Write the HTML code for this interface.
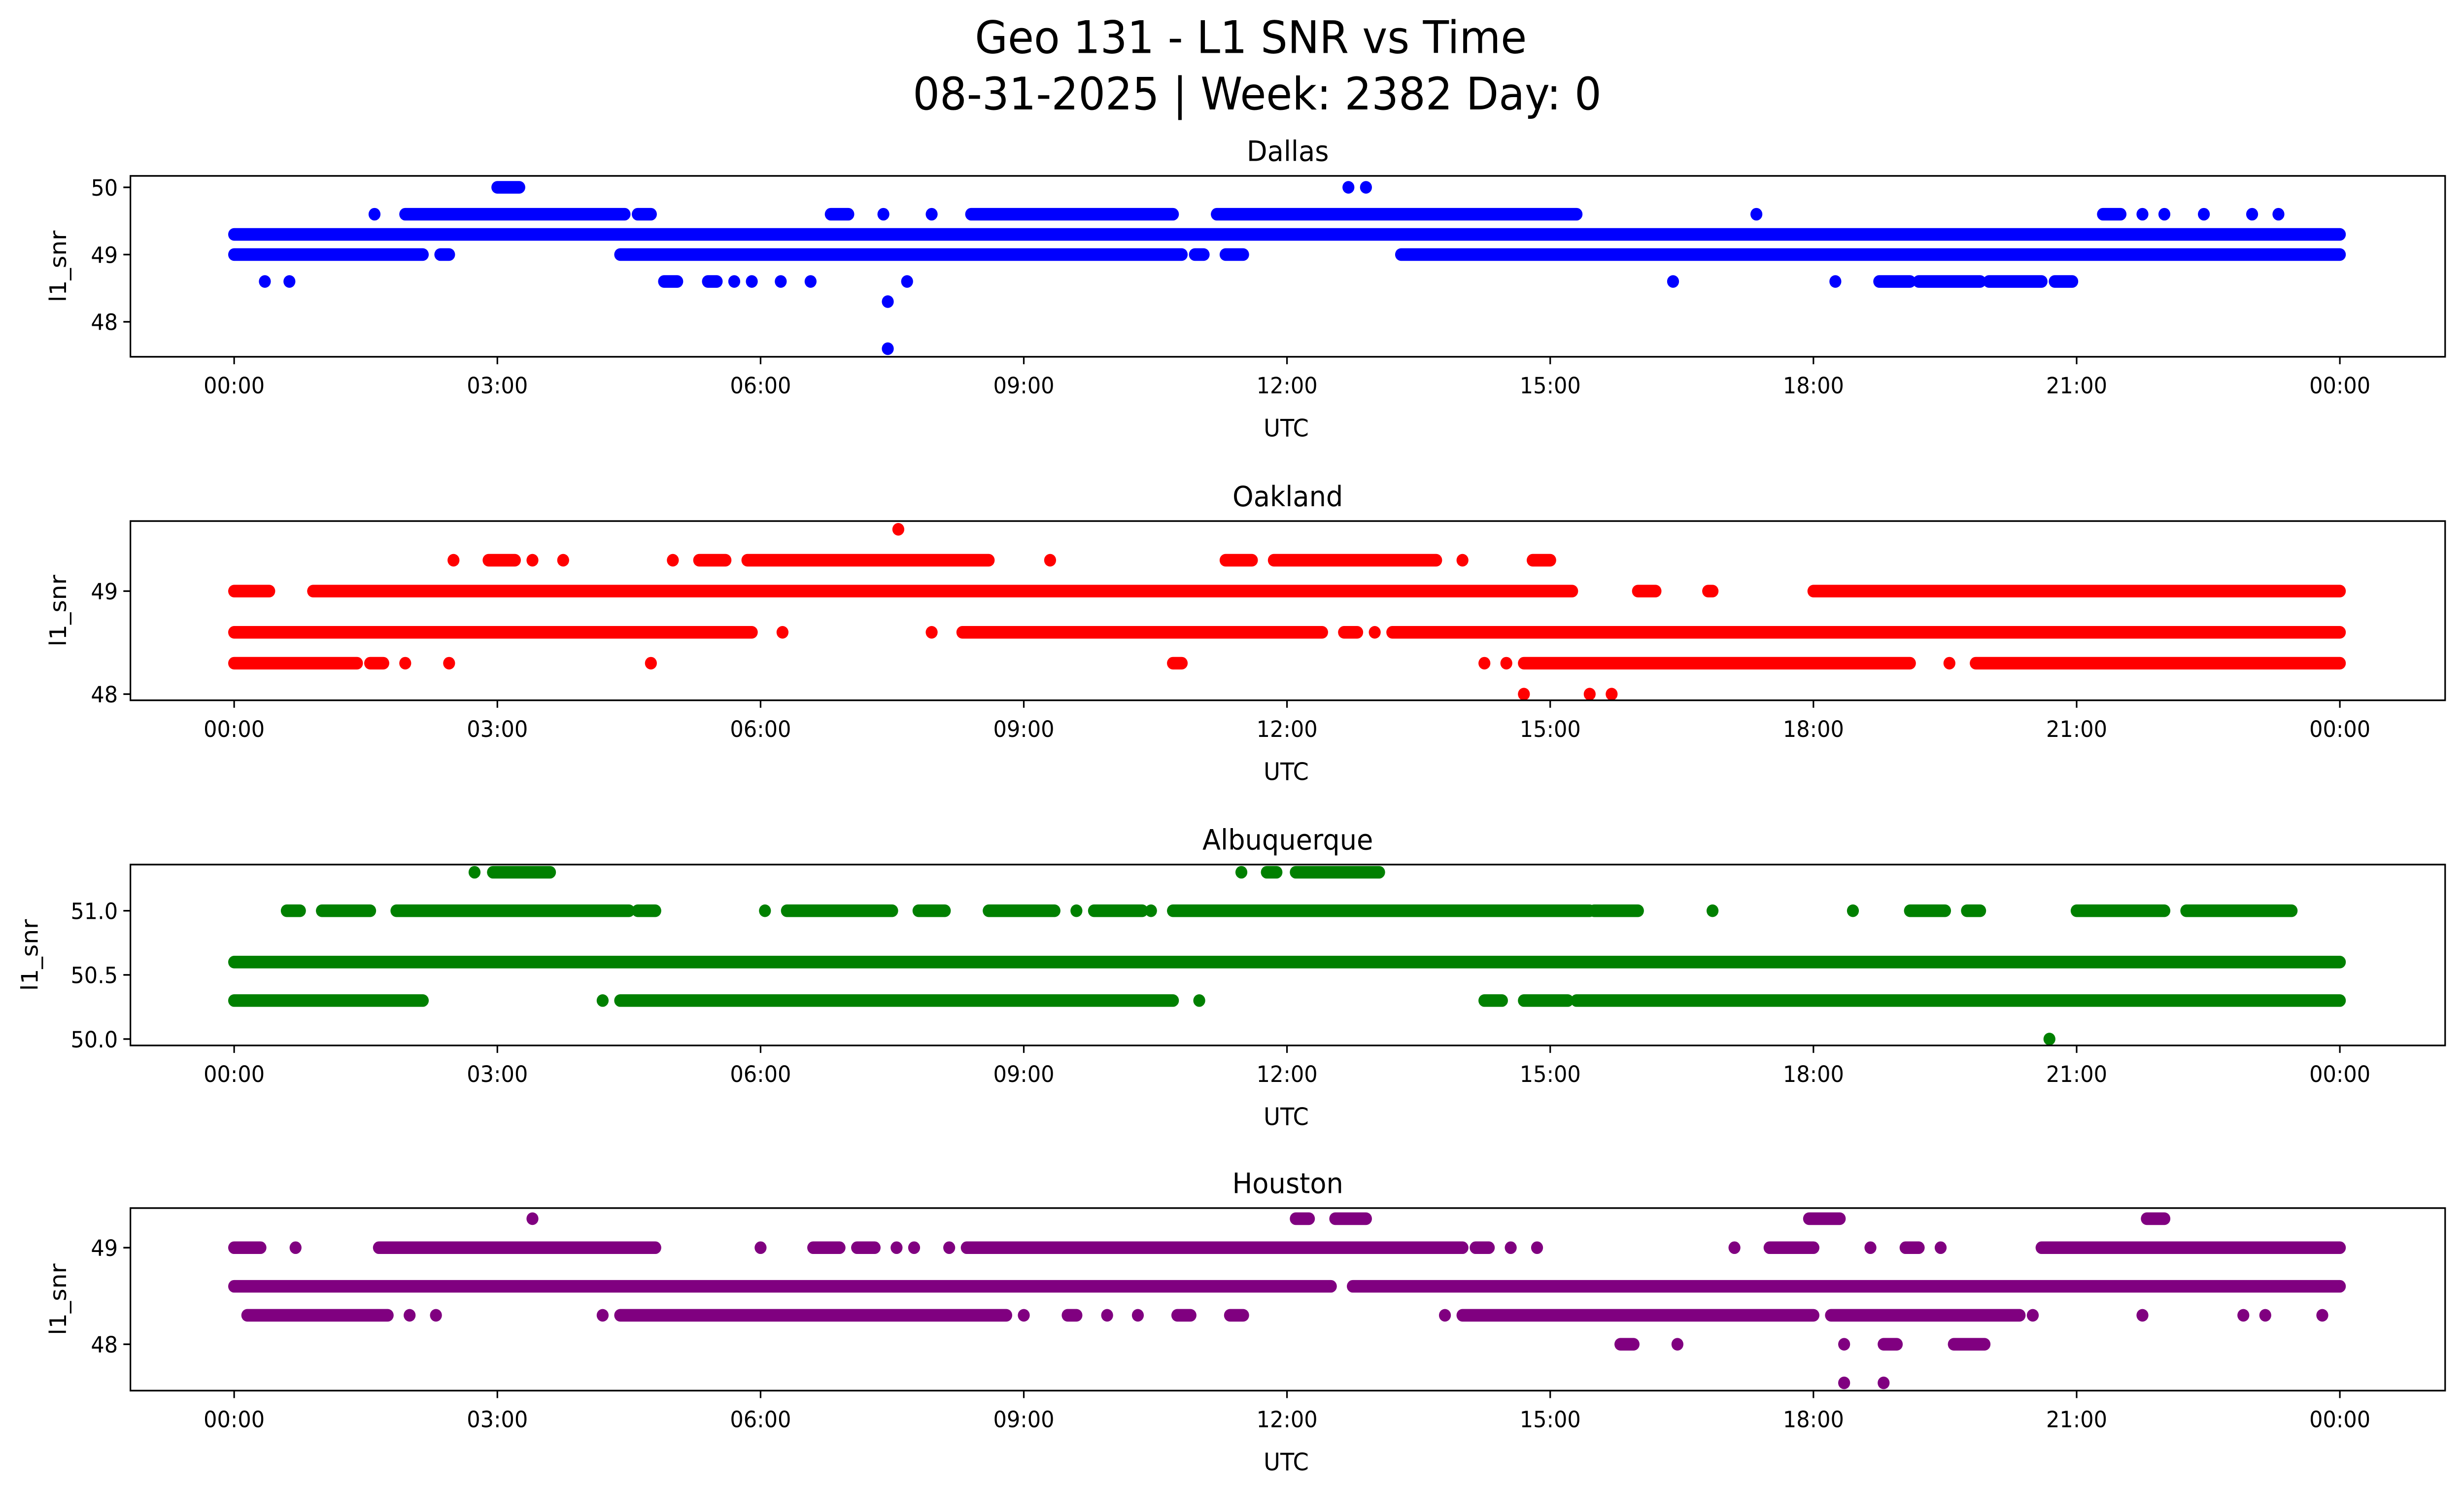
<!DOCTYPE html>
<html><head><meta charset="utf-8"><style>
html,body{margin:0;padding:0;background:#fff;width:100%;height:100%;overflow:hidden;}
svg{position:absolute;left:0;top:0;display:block;width:100vw;height:100vh;font-family:"DejaVu Sans","Liberation Sans",sans-serif;}
</style></head><body>
<svg id="fig" viewBox="0 0 1568 900.9" preserveAspectRatio="none" xmlns="http://www.w3.org/2000/svg">
<rect width="1568" height="901" fill="#fff"/>
<text x="796" y="32" font-size="27" text-anchor="middle">Geo 131 - L1 SNR vs Time</text>
<text x="800" y="66" font-size="27" text-anchor="middle">08-31-2025 | Week: 2382 Day: 0</text>
<g id="panels"></g>
</svg>
<script>
// Time in hours (0-24). Each run: [level, startHour, endHour]
const xTickLabels = ["00:00","03:00","06:00","09:00","12:00","15:00","18:00","21:00","00:00"];
const xTickHours = [0,3,6,9,12,15,18,21,24];

const dallasTicks = [48,49,50];
const dallasRuns = [
 [49.3,0,24],
 [49.0,0,2.15],[49.0,2.35,2.45],[49.0,4.4,10.8],[49.0,10.95,11.05],[49.0,11.3,11.5],[49.0,13.3,24],
 [49.6,1.6,1.6],[49.6,1.95,4.45],[49.6,4.6,4.75],[49.6,6.8,7.0],[49.6,7.4,7.4],[49.6,7.95,7.95],[49.6,8.4,10.7],[49.6,11.2,15.3],[49.6,17.35,17.35],[49.6,21.3,21.5],[49.6,21.75,21.75],[49.6,22.0,22.0],[49.6,22.45,22.45],[49.6,23.0,23.0],[49.6,23.3,23.3],
 [50.0,3.0,3.25],[50.0,12.7,12.7],[50.0,12.9,12.9],
 [48.6,0.35,0.35],[48.6,0.63,0.63],[48.6,4.9,5.05],[48.6,5.4,5.5],[48.6,5.7,5.7],[48.6,5.9,5.9],[48.6,6.23,6.23],[48.6,6.57,6.57],[48.6,7.67,7.67],[48.6,16.4,16.4],[48.6,18.25,18.25],[48.6,18.75,19.1],[48.6,19.2,19.9],[48.6,20.0,20.6],[48.6,20.75,20.95],
 [48.3,7.45,7.45],[47.6,7.45,7.45]
];
const oaklandTicks = [48,49];
const oaklandRuns = [
 [48.6,0,5.9],[48.6,6.25,6.25],[48.6,7.95,7.95],[48.6,8.3,12.4],[48.6,12.65,12.8],[48.6,13.0,13.0],[48.6,13.2,24],
 [49.0,0,0.4],[49.0,0.9,15.25],[49.0,16.0,16.2],[49.0,16.8,16.85],[49.0,18.0,24],
 [48.3,0,1.4],[48.3,1.55,1.7],[48.3,1.95,1.95],[48.3,2.45,2.45],[48.3,4.75,4.75],[48.3,10.7,10.8],[48.3,14.25,14.25],[48.3,14.5,14.5],[48.3,14.7,19.1],[48.3,19.55,19.55],[48.3,19.85,24],
 [49.3,2.5,2.5],[49.3,2.9,3.2],[49.3,3.4,3.4],[49.3,3.75,3.75],[49.3,5.0,5.0],[49.3,5.3,5.6],[49.3,5.85,8.6],[49.3,9.3,9.3],[49.3,11.3,11.6],[49.3,11.85,13.7],[49.3,14.0,14.0],[49.3,14.8,15.0],
 [49.6,7.57,7.57],
 [48.0,14.7,14.7],[48.0,15.45,15.45],[48.0,15.7,15.7]
];
const albqTicks = [50.0,50.5,51.0];
const albqRuns = [
 [50.6,0,24],
 [50.3,0,2.15],[50.3,4.2,4.2],[50.3,4.4,10.7],[50.3,11.0,11.0],[50.3,14.25,14.45],[50.3,14.7,15.2],[50.3,15.3,24],
 [51.0,0.6,0.75],[51.0,1.0,1.55],[51.0,1.85,4.5],[51.0,4.6,4.8],[51.0,6.05,6.05],[51.0,6.3,7.5],[51.0,7.8,8.1],[51.0,8.6,9.35],[51.0,9.6,9.6],[51.0,9.8,10.35],[51.0,10.45,10.45],[51.0,10.7,15.45],[51.0,15.5,16.0],[51.0,16.85,16.85],[51.0,18.45,18.45],[51.0,19.1,19.5],[51.0,19.75,19.9],[51.0,21.0,22.0],[51.0,22.25,23.45],
 [51.3,2.74,2.74],[51.3,2.95,3.6],[51.3,11.48,11.48],[51.3,11.77,11.88],[51.3,12.1,13.05],
 [50.0,20.69,20.69]
];
const houstonTicks = [48,49];
const houstonRuns = [
 [48.6,0,12.5],[48.6,12.75,24],
 [49.0,0,0.3],[49.0,0.7,0.7],[49.0,1.65,4.8],[49.0,6.0,6.0],[49.0,6.6,6.9],[49.0,7.1,7.3],[49.0,7.55,7.55],[49.0,7.75,7.75],[49.0,8.15,8.15],[49.0,8.35,14.0],[49.0,14.15,14.3],[49.0,14.55,14.55],[49.0,14.85,14.85],[49.0,17.1,17.1],[49.0,17.5,18.0],[49.0,18.65,18.65],[49.0,19.05,19.2],[49.0,19.45,19.45],[49.0,20.6,24],
 [48.3,0.15,1.75],[48.3,2.0,2.0],[48.3,2.3,2.3],[48.3,4.2,4.2],[48.3,4.4,8.8],[48.3,9.0,9.0],[48.3,9.5,9.6],[48.3,9.95,9.95],[48.3,10.3,10.3],[48.3,10.75,10.9],[48.3,11.35,11.5],[48.3,13.8,13.8],[48.3,14.0,18.0],[48.3,18.2,20.35],[48.3,20.5,20.5],[48.3,21.75,21.75],[48.3,22.9,22.9],[48.3,23.15,23.15],[48.3,23.8,23.8],
 [49.3,3.4,3.4],[49.3,12.1,12.25],[49.3,12.55,12.9],[49.3,17.95,18.3],[49.3,21.8,22.0],
 [48.0,15.8,15.95],[48.0,16.45,16.45],[48.0,18.35,18.35],[48.0,18.8,18.95],[48.0,19.6,19.95],
 [47.6,18.35,18.35],[47.6,18.8,18.8]
];

const panels = [
 {name:"dallas",title:"Dallas",color:"#0000ff",top:106,bot:215,ymin:47.48,ymax:50.17,ticks:dallasTicks,fmt:v=>v.toFixed(0),runs:dallasRuns},
 {name:"oakland",title:"Oakland",color:"#ff0000",top:314,bot:422,ymin:47.94,ymax:49.68,ticks:oaklandTicks,fmt:v=>v.toFixed(0),runs:oaklandRuns},
 {name:"albuquerque",title:"Albuquerque",color:"#008000",top:521,bot:630,ymin:49.95,ymax:51.36,ticks:albqTicks,fmt:v=>v.toFixed(1),runs:albqRuns},
 {name:"houston",title:"Houston",color:"#800080",top:728,bot:838,ymin:47.52,ymax:49.41,ticks:houstonTicks,fmt:v=>v.toFixed(0),runs:houstonRuns}
];
const NS="http://www.w3.org/2000/svg";
const L=83,R=1556,X0=149,X1=1489,RAD=3.8;
const xs=h=>X0+(X1-X0)*h/24;
function mk(tag,attrs,parent){const e=document.createElementNS(NS,tag);for(const k in attrs)e.setAttribute(k,attrs[k]);parent.appendChild(e);return e;}
const root=document.getElementById('panels');
panels.forEach(p=>{
 const ys=v=>p.bot-(v-p.ymin)/(p.ymax-p.ymin)*(p.bot-p.top);
 const g=mk('g',{},root);
 
 
 const t=mk('text',{x:(L+R)/2,y:p.top-9,'font-size':17,'text-anchor':'middle'},g);
 t.textContent=p.title;
 
 
 const pts=mk('g',{fill:p.color,stroke:p.color},g);
 
 
 p.runs.forEach(r=>{
  const y=ys(r[0]),a=xs(r[1]),b=xs(r[2]);
  let m;
  if(b-a<0.5){m=mk('circle',{cx:a,cy:y,r:RAD,stroke:'none'},pts);}
  else{m=mk('line',{x1:a,y1:y,x2:b,y2:y,'stroke-width':RAD*2,'stroke-linecap':'round'},pts);}
  
  
 });
 const frame=mk('rect',{x:L,y:p.top,width:R-L,height:p.bot-p.top,fill:'none',stroke:'#000','stroke-width':1},g);
 
 
 xTickHours.forEach((h,i)=>{
  const x=xs(h);
  mk('line',{x1:x,y1:p.bot,x2:x,y2:p.bot+4.5,stroke:'#000','stroke-width':1},g);
  const tl=mk('text',{x:x,y:p.bot+22,'font-size':13.5,'text-anchor':'middle'},g);
  tl.textContent=xTickLabels[i];
  
  
 });
 p.ticks.forEach(v=>{
  const y=ys(v);
  mk('line',{x1:L-4.5,y1:y,x2:L,y2:y,stroke:'#000','stroke-width':1},g);
  const tl=mk('text',{x:L-8,y:y+5,'font-size':13.5,'text-anchor':'end'},g);
  tl.textContent=p.fmt(v);
  
  
 });
 const xl=mk('text',{x:(L+R)/2-1,y:p.bot+48,'font-size':14.5,'text-anchor':'middle'},g);
 xl.textContent='UTC';
 
 
 const yc=(p.top+p.bot)/2;
 const lx = p.name==='albuquerque'?24:42;
 const yl=mk('text',{x:lx,y:yc,'font-size':14.5,'text-anchor':'middle',transform:`rotate(-90 ${lx} ${yc})`},g);
 yl.textContent='l1_snr';
 
 
});
</script>
</body></html>
